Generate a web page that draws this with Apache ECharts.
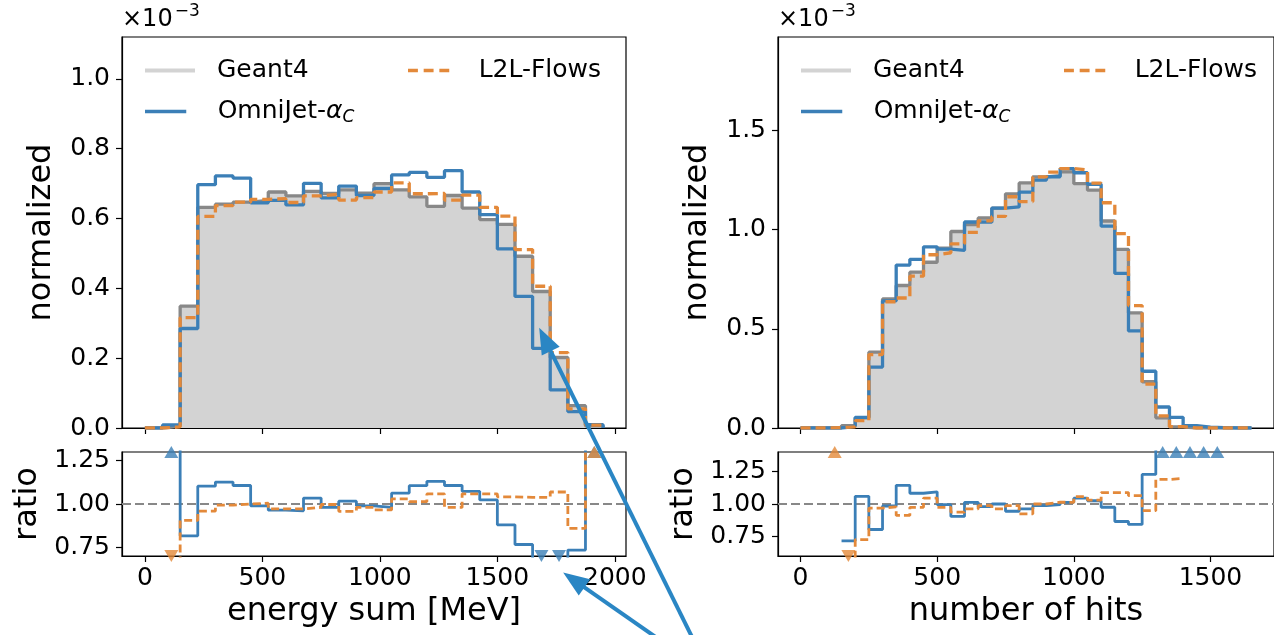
<!DOCTYPE html>
<html>
<head>
<meta charset="utf-8">
<script src="https://cdn.jsdelivr.net/npm/echarts@6/dist/echarts.min.js"></script>
<style>
  html, body { margin: 0; padding: 0; background: #ffffff; }
  #chart { width: 1274px; height: 635px; }
</style>
</head>
<body>
<div id="chart"></div>
<script>
// ---------- energy sum histogram (MeV), values in units of 1e-3 ----------
const energyEdges = [0, 75, 150, 225, 300, 375, 450, 525, 600, 675, 750, 825, 900, 975,
  1050, 1125, 1200, 1275, 1350, 1425, 1500, 1575, 1650, 1725, 1800, 1875, 1950];
const energyGeant4 = [0, 0.0055, 0.349, 0.632, 0.641, 0.647, 0.652, 0.676, 0.665, 0.678, 0.672, 0.682, 0.673,
  0.700, 0.682, 0.662, 0.635, 0.666, 0.630, 0.597, 0.583, 0.492, 0.391, 0.202, 0.064, 0.006];
const energyOmniJet = [0, 0.0086, 0.285, 0.697, 0.722, 0.716, 0.645, 0.652, 0.639, 0.701, 0.659, 0.693, 0.666,
  0.686, 0.725, 0.732, 0.718, 0.737, 0.676, 0.611, 0.513, 0.377, 0.228, 0.109, 0.047, 0.0095];
const energyL2L = [0, 0.0030, 0.316, 0.606, 0.637, 0.647, 0.655, 0.657, 0.646, 0.665, 0.670, 0.653, 0.660,
  0.676, 0.702, 0.671, 0.672, 0.653, 0.667, 0.632, 0.607, 0.511, 0.406, 0.216, 0.055, 0.0085];

// ---------- number of hits histogram, values in units of 1e-3 ----------
const hitsEdges = [0, 50, 100, 150, 200, 250, 300, 350, 400, 450, 500, 550, 600, 650, 700, 750, 800,
  850, 900, 950, 1000, 1050, 1100, 1150, 1200, 1250, 1300, 1350, 1400, 1450, 1500, 1550, 1600, 1650];
const hitsGeant4 = [0, 0, 0, 0.012, 0.051, 0.382, 0.650, 0.718, 0.785, 0.835, 0.906, 0.990, 1.025, 1.058,
  1.108, 1.180, 1.235, 1.265, 1.272, 1.290, 1.231, 1.198, 1.043, 0.900, 0.580, 0.233, 0.0513, 0.0056,
  0, 0, 0, 0, 0];
const hitsOmniJet = [0, 0, 0, 0.0086, 0.054, 0.307, 0.640, 0.821, 0.850, 0.913, 0.901, 0.895, 1.038, 1.037,
  1.108, 1.114, 1.188, 1.249, 1.266, 1.307, 1.286, 1.228, 1.017, 0.779, 0.489, 0.286, 0.1057, 0.0537,
  0.0117, 0.004, 0.002, 0, 0];
const hitsL2L = [0, 0, 0.002, 0.006, 0.037, 0.370, 0.636, 0.655, 0.765, 0.873, 0.883, 0.928, 0.986, 1.044,
  1.066, 1.165, 1.141, 1.265, 1.289, 1.307, 1.300, 1.234, 1.135, 0.979, 0.617, 0.221, 0.061, 0.0067,
  0, 0, 0, 0, 0];

// ---------- axis ticks ----------
const energyTicks = [0, 500, 1000, 1500, 2000];
const hitsTicks = [0, 500, 1000, 1500];
const energyNormTicks = [0, 0.2, 0.4, 0.6, 0.8, 1.0];
const hitsNormTicks = [0, 0.5, 1.0, 1.5];
const ratioTicks = [0.75, 1.00, 1.25];

const FONT = 'DejaVu Sans';
const C_BLUE = '#3b7fb7';
const C_ORANGE = '#e3893a';
const C_GREY = '#888888';
const C_FILL = '#d3d3d3';
const C_ARROW = '#2a86c4';

// closed step outline of a histogram (starts and ends on the baseline)
function stepOutline(edges, vals) {
  const pts = [[edges[0], 0]];
  vals.forEach((v, i) => { pts.push([edges[i], v], [edges[i + 1], v]); });
  pts.push([edges[edges.length - 1], 0]);
  return pts;
}

// per-bin ratio model / reference; Infinity where the reference is empty
function ratios(model, ref) {
  return model.map((m, i) => {
    if (ref[i] > 0) return m / ref[i];
    return m > 0 ? Infinity : NaN;
  });
}

// step line of the finite ratios, broken where the ratio is undefined
function ratioSteps(edges, r) {
  const pts = [];
  let open = false;
  r.forEach((v, i) => {
    if (isFinite(v)) {
      if (!open && pts.length) pts.push([edges[i], '-']);
      pts.push([edges[i], v]);
      pts.push([edges[i + 1], v]);
      open = true;
    } else {
      open = false;
    }
  });
  return pts;
}

// triangles at the panel edge for ratios outside the visible range
function outOfRange(edges, r, lo, hi) {
  const out = [];
  r.forEach((v, i) => {
    const xc = (edges[i] + edges[i + 1]) / 2;
    if (v > hi) out.push({ value: [xc, hi], symbolRotate: 0 });
    else if (v > 0 && v < lo) out.push({ value: [xc, lo], symbolRotate: 180 });
  });
  return out;
}

const panels = [
  { edges: energyEdges, g: energyGeant4, o: energyOmniJet, l: energyL2L,
    xMin: -97.5, xMax: 2047.5, ticks: energyTicks, yMax: 1.12, yTicks: energyNormTicks, yDec: 1,
    rLo: 0.7, rHi: 1.3, xName: 'energy sum [MeV]', left: 122 },
  { edges: hitsEdges, g: hitsGeant4, o: hitsOmniJet, l: hitsL2L,
    xMin: -82.5, xMax: 1732.5, ticks: hitsTicks, yMax: 1.97, yTicks: hitsNormTicks, yDec: 1,
    rLo: 0.6, rHi: 1.4, xName: 'number of hits', left: 778 }
];

const grid = [], xAxis = [], yAxis = [], series = [];
const axisLine = { show: true, onZero: false, lineStyle: { color: '#000', width: 1.2 } };
const tickStyle = { color: '#000', width: 1.2 };
const labelBase = { color: '#000', fontSize: 25, fontFamily: FONT };
const nameBase = { color: '#000', fontSize: 32, fontFamily: FONT };
const LW = 3.3, RW = 2.8;

panels.forEach((p, k) => {
  const gMain = k * 2, gRatio = k * 2 + 1;
  grid.push({ left: p.left, top: 37, width: 504, height: 391, show: true,
              borderColor: '#000', borderWidth: 1.2, backgroundColor: 'transparent' });
  grid.push({ left: p.left, top: 452, width: 504, height: 104, show: true,
              borderColor: '#000', borderWidth: 1.2, backgroundColor: 'transparent' });

  // x axes
  xAxis.push({ type: 'value', gridIndex: gMain, min: p.xMin, max: p.xMax,
    axisLine, splitLine: { show: false },
    axisTick: { show: true, length: 6, lineStyle: tickStyle, customValues: p.ticks },
    axisLabel: { show: false, customValues: p.ticks } });
  xAxis.push({ type: 'value', gridIndex: gRatio, min: p.xMin, max: p.xMax,
    axisLine, splitLine: { show: false },
    axisTick: { show: true, length: 6, lineStyle: tickStyle, customValues: p.ticks },
    axisLabel: Object.assign({ show: true, margin: 10, customValues: p.ticks,
                               formatter: v => String(v) }, labelBase),
    name: p.xName, nameLocation: 'middle', nameGap: 40, nameTextStyle: nameBase });

  // y axes
  yAxis.push({ type: 'value', gridIndex: gMain, min: 0, max: p.yMax,
    axisLine, splitLine: { show: false },
    axisTick: { show: true, length: 6, lineStyle: tickStyle, customValues: p.yTicks },
    axisLabel: Object.assign({ margin: 12, customValues: p.yTicks,
                               formatter: v => v.toFixed(p.yDec) }, labelBase),
    name: 'normalized', nameLocation: 'middle', nameGap: 64, nameTextStyle: nameBase });
  yAxis.push({ type: 'value', gridIndex: gRatio, min: p.rLo, max: p.rHi,
    axisLine, splitLine: { show: false },
    axisTick: { show: true, length: 6, lineStyle: tickStyle, customValues: ratioTicks },
    axisLabel: Object.assign({ margin: 12, customValues: ratioTicks,
                               formatter: v => v.toFixed(2) }, labelBase),
    name: 'ratio', nameLocation: 'middle', nameGap: 78, nameTextStyle: nameBase });

  // main panel: reference fill + outline, then the two models
  series.push({ name: 'Geant4', type: 'line', xAxisIndex: gMain, yAxisIndex: gMain,
    data: stepOutline(p.edges, p.g), symbol: 'none', silent: true, z: 1,
    lineStyle: { color: C_FILL, width: 0 }, itemStyle: { color: C_FILL },
    areaStyle: { color: C_FILL, opacity: 1 } });
  series.push({ name: 'Geant4 outline', type: 'line', xAxisIndex: gMain, yAxisIndex: gMain,
    data: stepOutline(p.edges, p.g), symbol: 'none', silent: true, z: 2,
    lineStyle: { color: C_GREY, width: LW } });
  series.push({ name: 'OmniJet', type: 'line', xAxisIndex: gMain, yAxisIndex: gMain,
    data: stepOutline(p.edges, p.o), symbol: 'none', silent: true, z: 3,
    lineStyle: { color: C_BLUE, width: LW }, itemStyle: { color: C_BLUE } });
  series.push({ name: 'L2L-Flows', type: 'line', xAxisIndex: gMain, yAxisIndex: gMain,
    data: stepOutline(p.edges, p.l), symbol: 'none', silent: true, z: 4,
    lineStyle: { color: C_ORANGE, width: LW, type: [10, 5] }, itemStyle: { color: C_ORANGE } });

  // ratio panel
  const rO = ratios(p.o, p.g), rL = ratios(p.l, p.g);
  series.push({ name: 'unity', type: 'line', xAxisIndex: gRatio, yAxisIndex: gRatio,
    data: [[p.xMin, 1], [p.xMax, 1]], symbol: 'none', silent: true, z: 1,
    lineStyle: { color: C_GREY, width: 2.2, type: [9, 4] } });
  series.push({ name: 'OmniJet ratio', type: 'line', xAxisIndex: gRatio, yAxisIndex: gRatio,
    data: ratioSteps(p.edges, rO), symbol: 'none', silent: true, z: 3, clip: true,
    lineStyle: { color: C_BLUE, width: RW } });
  series.push({ name: 'L2L ratio', type: 'line', xAxisIndex: gRatio, yAxisIndex: gRatio,
    data: ratioSteps(p.edges, rL), symbol: 'none', silent: true, z: 4, clip: true,
    lineStyle: { color: C_ORANGE, width: RW, type: [8, 4] } });
  series.push({ name: 'OmniJet outside', type: 'scatter', xAxisIndex: gRatio, yAxisIndex: gRatio,
    data: outOfRange(p.edges, rO, p.rLo, p.rHi), symbol: 'triangle', symbolSize: [14, 12],
    clip: false, silent: true, z: 5, itemStyle: { color: C_BLUE } });
  series.push({ name: 'L2L outside', type: 'scatter', xAxisIndex: gRatio, yAxisIndex: gRatio,
    data: outOfRange(p.edges, rL, p.rLo, p.rHi), symbol: 'triangle', symbolSize: [14, 12],
    clip: false, silent: true, z: 6, itemStyle: { color: C_ORANGE } });
});

// legend entries, two columns per panel; icons are plain bars (dashed for L2L-Flows)
function legendTextStyle(extraLeft) {
  return {
    fontSize: 25, fontFamily: FONT, color: '#000', padding: [0, 0, 0, 16 + extraLeft],
    rich: {
      n: { fontSize: 25, fontFamily: FONT, color: '#000' },
      a: { fontSize: 25, fontFamily: FONT, fontStyle: 'italic', color: '#000' },
      s: { fontSize: 17, fontFamily: FONT, fontStyle: 'italic', color: '#000', padding: [12, 0, 0, 0] }
    }
  };
}
const ICON_SOLID = 'path://M0,0h50v4h-50z';
const ICON_DASHED = 'path://M0,0h12v4h-12z M19,0h12v4h-12z M38,0h12v4h-12z';
const legendFmt = name => name === 'OmniJet' ? '{n|OmniJet-}{a|α}{s|C}' : name;
function legendItem(name, left, top, color, dashed, thick, extraLeft) {
  return {
    left, top, padding: 0, itemWidth: 52, itemHeight: thick, selectedMode: false,
    formatter: legendFmt, textStyle: legendTextStyle(extraLeft),
    data: [{ name, icon: dashed ? ICON_DASHED : ICON_SOLID,
             itemStyle: { color, borderWidth: 0 } }]
  };
}
const legend = [];
panels.forEach((p) => {
  const x0 = p.left + 23, x1 = p.left + 286;
  legend.push(legendItem('Geant4', x0, 58, C_FILL, false, 4, 0));
  legend.push(legendItem('L2L-Flows', x1, 58, C_ORANGE, true, 3.3, 3));
  legend.push(legendItem('OmniJet', x0, 99, C_BLUE, false, 3.3, 5));
});

const chart = echarts.init(document.getElementById('chart'), null, { renderer: 'canvas' });
chart.setOption({
  animation: false,
  backgroundColor: '#ffffff',
  grid, xAxis, yAxis, series, legend
});

// scale factor labels and the two annotation arrows
const graphic = [];
panels.forEach((p) => {
  graphic.push({ type: 'text', left: p.left, top: 3, z: 10,
    style: { text: '{a|×10}{b|−3}', fill: '#000',
      rich: { a: { fontSize: 24, fontFamily: FONT, padding: [10, 0, 0, 0] },
              b: { fontSize: 17, fontFamily: FONT, padding: [0, 0, 6, 2] } } } });
});

function arrow(tail, tip, head, halfW) {
  const dx = tip[0] - tail[0], dy = tip[1] - tail[1];
  const len = Math.hypot(dx, dy), ux = dx / len, uy = dy / len;
  const bx = tip[0] - ux * head, by = tip[1] - uy * head;
  return [
    { type: 'line', z: 20, silent: true,
      shape: { x1: tail[0], y1: tail[1], x2: bx + ux * 4, y2: by + uy * 4 },
      style: { stroke: C_ARROW, lineWidth: 4 } },
    { type: 'polygon', z: 21, silent: true,
      shape: { points: [tip, [bx - uy * halfW, by + ux * halfW], [bx + uy * halfW, by - ux * halfW]] },
      style: { fill: C_ARROW } }
  ];
}
// arrow tips point at the OmniJet drop near 1.7 GeV in the main and ratio panels
const tipMain = chart.convertToPixel({ gridIndex: 0 }, [1678, 0.287]);
const tipRatio = chart.convertToPixel({ gridIndex: 1 }, [1780, 0.605]);
const tail = chart.convertToPixel({ gridIndex: 1 }, [2410, 0.009]);
graphic.push(...arrow(tail, tipMain, 26, 10));
graphic.push(...arrow(tail, tipRatio, 26, 10));

chart.setOption({ graphic });
</script>
</body>
</html>
